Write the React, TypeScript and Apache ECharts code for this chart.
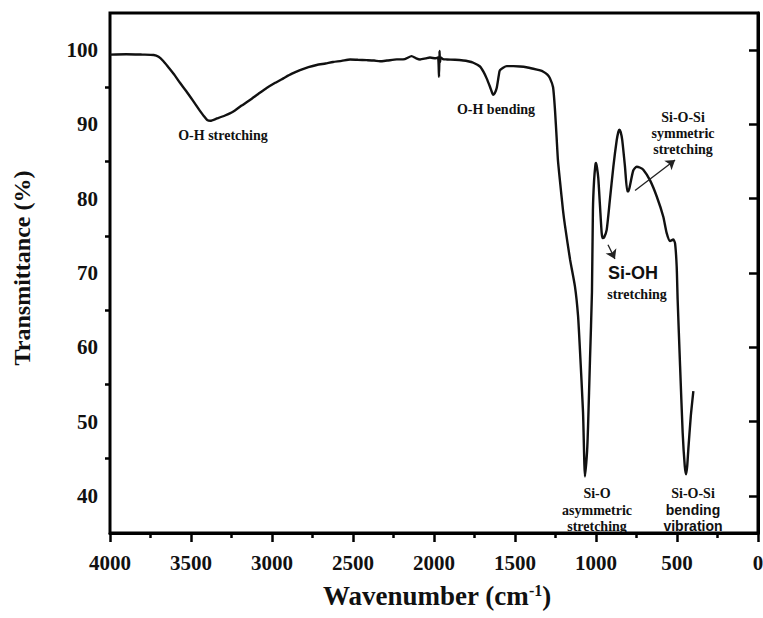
import React, { useEffect, useRef } from "react";
import * as echarts from "echarts";

// FTIR spectrum of the silica sample: wavenumber (cm-1) vs transmittance (%)
const wavenumber = [
  4000, 3900, 3800, 3730, 3700, 3670, 3640, 3600, 3568, 3530, 3488, 3450, 3420, 3400,
  3380, 3340, 3290, 3241, 3190, 3136, 3085, 3033, 2980, 2930, 2880, 2827, 2775, 2724,
  2670, 2623, 2570, 2518, 2470, 2415, 2370, 2333, 2290, 2230, 2180, 2138, 2110, 2086,
  2050, 2025, 1990, 1975, 1969, 1966, 1963, 1958, 1945, 1922, 1870, 1819, 1790, 1757,
  1716, 1695, 1675, 1655, 1640, 1634, 1625, 1613, 1600, 1593, 1551, 1510, 1469, 1430,
  1387, 1350, 1325, 1300, 1284, 1265, 1253, 1243, 1235, 1222, 1204, 1191, 1160, 1130,
  1111, 1099, 1080, 1068, 1055, 1049, 1037, 1025, 1019, 1012, 1004, 1000, 994, 986, 975,
  965, 959, 950, 934, 914, 893, 872, 862, 856, 848, 838, 821, 807, 800, 790, 770, 749,
  730, 708, 667, 625, 585, 564, 543, 523, 512, 502, 496, 481, 465, 452, 444, 437, 430,
  415, 399,
];
const transmittance = [
  99.4, 99.45, 99.4, 99.35, 99.1, 98.5, 97.7, 96.6, 95.6, 94.5, 93.2, 92.0, 91.1, 90.6,
  90.5, 90.8, 91.2, 91.7, 92.5, 93.3, 94.1, 94.9, 95.6, 96.2, 96.8, 97.3, 97.7, 98.0,
  98.2, 98.4, 98.55, 98.75, 98.7, 98.65, 98.6, 98.5, 98.6, 98.75, 98.8, 99.2, 98.9, 98.75,
  98.9, 99.0, 98.9, 99.0, 96.4, 99.9, 98.4, 99.0, 98.8, 98.75, 98.7, 98.6, 98.5, 98.3,
  97.8, 97.1, 96.2, 95.1, 94.2, 94.0, 94.2, 94.9, 96.6, 97.3, 97.85, 97.85, 97.8, 97.7,
  97.5, 97.3, 97.1, 96.7, 96.2, 95.0, 91.9, 88.2, 85.2, 82.3, 78.5, 76.3, 71.8, 68.2,
  64.3, 59.6, 51.2, 42.6, 46.0, 49.4, 58.4, 67.4, 78.5, 82.4, 84.5, 84.8, 84.2, 82.8, 78.9,
  75.4, 74.7, 74.8, 75.8, 79.9, 84.3, 87.9, 89.0, 89.3, 89.0, 87.9, 84.3, 81.0, 81.0, 81.8, 83.8, 84.3,
  84.2, 83.9, 82.5, 80.3, 77.6, 75.4, 74.3, 74.5, 74.0, 70.9, 66.4, 57.5, 48.5, 44.0, 42.9, 44.0, 46.3,
  50.7, 54.1,
];

const yLabelValues = [40, 50, 60, 70, 80, 90, 100];
const yMinorValues = [45, 55, 65, 75, 85, 95];

// Arrow endpoints in data space: [from, to]
const symStretchArrow = [[759, 81.1], [512, 85.2]];
const siohArrow = [[926, 73.8], [883, 71.9]];

const SERIF = "Liberation Serif, Times New Roman, serif";
const SANS = "Liberation Sans, Arial, sans-serif";

function label(text: string, x: number, y: number, size = 14, family = SERIF) {
  return {
    type: "text",
    x,
    y,
    silent: true,
    style: {
      text,
      fill: "#111",
      font: `bold ${size}px ${family}`,
      textAlign: "center",
      textVerticalAlign: "middle",
    },
  };
}

export default function App() {
  const ref = useRef<HTMLDivElement>(null);

  useEffect(() => {
    const chart = echarts.init(ref.current!, null, { renderer: "svg" });
    const axisColor = "#000";
    chart.setOption({
      animation: false,
      backgroundColor: "#fff",
      grid: {
        left: 110,
        right: 5,
        top: 13,
        bottom: 85,
        show: true,
        borderColor: axisColor,
        borderWidth: 3,
        containLabel: false,
        outerBoundsMode: "none",
      },
      xAxis: {
        type: "value",
        min: 0,
        max: 4000,
        interval: 500,
        inverse: true,
        axisLine: { show: true, lineStyle: { color: axisColor, width: 3 } },
        axisTick: { show: true, length: 9, lineStyle: { color: axisColor, width: 2.5 } },
        minorTick: { show: true, splitNumber: 2, length: 5, lineStyle: { color: axisColor, width: 2.5 } },
        splitLine: { show: false },
        minorSplitLine: { show: false },
        axisLabel: {
          color: "#111",
          fontFamily: SERIF,
          fontWeight: "bold",
          fontSize: 21,
          margin: 19,
          formatter: (v: number) => String(v),
        },
      },
      yAxis: [
        {
          type: "value",
          min: 35,
          max: 105,
          axisLine: { show: true, lineStyle: { color: axisColor, width: 3 } },
          axisTick: {
            show: true,
            length: 9,
            customValues: yLabelValues,
            lineStyle: { color: axisColor, width: 2.5 },
          },
          splitLine: { show: false },
          axisLabel: {
            customValues: yLabelValues,
            color: "#111",
            fontFamily: SERIF,
            fontWeight: "bold",
            fontSize: 21,
            margin: 12,
            formatter: (v: number) => String(v),
          },
        },
        {
          type: "value",
          min: 35,
          max: 105,
          position: "left",
          axisLine: { show: false },
          axisTick: {
            show: true,
            length: 5,
            customValues: yMinorValues,
            lineStyle: { color: axisColor, width: 2.5 },
          },
          splitLine: { show: false },
          axisLabel: { show: false },
        },
      ],
      series: [
        {
          type: "line",
          data: wavenumber.map((w, i) => [w, transmittance[i]]),
          showSymbol: false,
          smooth: 0.2,
          lineStyle: { color: "#111", width: 2.4 },
          silent: true,
          markLine: {
            silent: true,
            symbol: ["none", "arrow"],
            symbolSize: 9,
            label: { show: false },
            lineStyle: { color: "#222", width: 1.3, type: "solid" },
            data: [
              [{ coord: symStretchArrow[0] }, { coord: symStretchArrow[1] }],
              [{ coord: siohArrow[0] }, { coord: siohArrow[1] }],
            ],
          },
        },
      ],
      graphic: [
        {
          type: "text",
          x: 22,
          y: 268,
          rotation: Math.PI / 2,
          silent: true,
          style: {
            text: "Transmittance (%)",
            fill: "#111",
            font: `bold 24px ${SERIF}`,
            textAlign: "center",
            textVerticalAlign: "middle",
          },
        },
        {
          type: "text",
          x: 437,
          y: 596,
          silent: true,
          style: {
            text: "{t|Wavenumber (cm}{s|-1}{t|)}",
            font: `bold 27px ${SERIF}`,
            fill: "#111",
            textAlign: "center",
            textVerticalAlign: "middle",
            rich: {
              t: { fontFamily: SERIF, fontWeight: "bold", fontSize: 27, fill: "#111" },
              s: { fontFamily: SERIF, fontWeight: "bold", fontSize: 16, fill: "#111", verticalAlign: "top" },
            },
          },
        },
        label("O-H stretching", 223, 135),
        label("O-H bending", 496, 109),
        label("Si-O-Si", 683, 117),
        label("symmetric", 683, 133),
        label("stretching", 683, 149),
        label("Si-OH", 633, 273, 18, SANS),
        label("stretching", 637, 294),
        label("Si-O", 597, 493),
        label("asymmetric", 597, 510),
        label("stretching", 597, 526),
        label("Si-O-Si", 693, 493),
        label("bending", 693, 510, 14, SANS),
        label("vibration", 693, 526, 14, SANS),
      ],
    });
    return () => chart.dispose();
  }, []);

  return (
    <div
      ref={ref}
      style={{ position: "fixed", left: 0, top: 0, width: 763, height: 618, background: "#fff" }}
    />
  );
}
